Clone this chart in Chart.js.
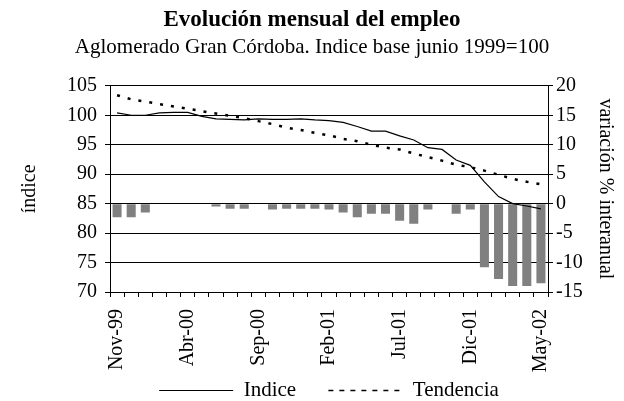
<!DOCTYPE html>
<html>
<head>
<meta charset="utf-8">
<script src="https://cdn.jsdelivr.net/npm/chart.js@4.4.1/dist/chart.umd.min.js"></script>
<style>
  body { margin: 0; background: #fff; }
</style>
</head>
<body>
<canvas id="empleo" width="624" height="401"></canvas>
<script>
// meses (nov-99 a may-02)
const meses = ['Nov-99', 'Dic-99', 'Ene-00', 'Feb-00', 'Mar-00', 'Abr-00', 'May-00', 'Jun-00', 'Jul-00', 'Ago-00',
  'Sep-00', 'Oct-00', 'Nov-00', 'Dic-00', 'Ene-01', 'Feb-01', 'Mar-01', 'Abr-01', 'May-01', 'Jun-01',
  'Jul-01', 'Ago-01', 'Sep-01', 'Oct-01', 'Nov-01', 'Dic-01', 'Ene-02', 'Feb-02', 'Mar-02', 'Abr-02', 'May-02'];

// indice base junio 1999=100 (eje izquierdo)
const indice = [100.4, 100.0, 100.0, 100.4, 100.5, 100.5, 99.8, 99.4, 99.3, 99.2,
  99.4, 99.3, 99.3, 99.4, 99.2, 99.1, 98.8, 98.1, 97.3, 97.3,
  96.5, 95.8, 94.5, 94.2, 92.4, 91.5, 88.7, 86.2, 85.0, 84.6, 84.1];

const tendencia = [103.4, 102.7, 102.3, 101.9, 101.5, 101.1, 100.7, 100.3, 99.9, 99.5,
  99.0, 98.5, 97.9, 97.5, 97.0, 96.6, 96.0, 95.6, 95.0, 94.5,
  94.2, 93.5, 92.9, 92.3, 91.6, 91.2, 90.6, 89.9, 89.2, 88.7, 88.3];

// variacion % interanual (eje derecho)
const variacion = [-2.3, -2.3, -1.5, -0.1, 0, 0, 0, -0.5, -0.85, -0.85,
  -0.1, -1.0, -0.85, -0.85, -0.85, -1.0, -1.5, -2.3, -1.7, -1.7,
  -2.9, -3.4, -1.0, -0.1, -1.7, -1.0, -10.8, -12.8, -14.0, -14.0, -13.5];

const fuente = 'Liberation Serif, Times New Roman, serif';

const ctx = document.getElementById('empleo').getContext('2d');
new Chart(ctx, {
  type: 'bar',
  data: {
    labels: meses,
    datasets: [{
      type: 'line',
      label: 'Indice',
      data: indice,
      yAxisID: 'y',
      borderColor: '#000',
      backgroundColor: '#000',
      borderWidth: 1.2,
      pointRadius: 0,
      tension: 0
    }, {
      type: 'line',
      label: 'Tendencia',
      data: tendencia,
      yAxisID: 'y',
      borderColor: '#000',
      backgroundColor: '#000',
      borderWidth: 2.5,
      borderDash: [3, 8],
      pointRadius: 0,
      tension: 0
    }, {
      label: 'variación % interanual',
      data: variacion,
      yAxisID: 'y2',
      backgroundColor: '#808080',
      categoryPercentage: 1,
      barPercentage: 0.64
    }]
  },
  options: {
    responsive: false,
    animation: false,
    layout: { padding: { top: 0, left: 0, right: 0, bottom: -10 } },
    scales: {
      x: {
        grid: { display: true, drawOnChartArea: false, drawTicks: true, tickLength: 5, color: '#000' },
        border: { color: '#000', width: 1 },
        ticks: {
          autoSkip: false,
          minRotation: 90,
          maxRotation: 90,
          padding: 12,
          color: '#000',
          font: { family: fuente, size: 20 },
          callback: function (val, i) { return i % 5 === 0 ? meses[i] : ''; }
        },
        afterFit: function (scale) { scale.height = 82; }
      },
      y: {
        position: 'left',
        min: 70,
        max: 105,
        ticks: { stepSize: 5, padding: 8, color: '#000', font: { family: fuente, size: 20 } },
        grid: { color: '#000', lineWidth: 1, tickLength: 5 },
        border: { color: '#000', width: 1 },
        title: { display: true, text: 'índice', color: '#000', font: { family: fuente, size: 20 }, padding: { top: 18, bottom: 0 } },
        afterFit: function (scale) { scale.width = 110; }
      },
      y2: {
        position: 'right',
        min: -15,
        max: 20,
        ticks: { stepSize: 5, padding: 3, color: '#000', font: { family: fuente, size: 20 } },
        grid: { drawOnChartArea: false, color: '#000', tickLength: 5 },
        border: { color: '#000', width: 1 },
        title: { display: true, text: 'variación % interanual', color: '#000', font: { family: fuente, size: 20 }, padding: { top: 7, bottom: 0 } },
        afterFit: function (scale) { scale.width = 76; }
      }
    },
    plugins: {
      title: {
        display: true,
        text: 'Evolución mensual del empleo',
        color: '#000',
        font: { family: fuente, size: 23, weight: 'bold' },
        padding: { top: 6, bottom: 0 }
      },
      subtitle: {
        display: true,
        text: 'Aglomerado Gran Córdoba. Indice base junio 1999=100',
        color: '#000',
        font: { family: fuente, size: 21 },
        padding: { top: 1, bottom: 26 }
      },
      legend: {
        position: 'bottom',
        fullSize: false,
        labels: {
          filter: function (item) { return item.datasetIndex < 2; },
          // separa los items y usa un guion mas fino en la leyenda
          generateLabels: function (chart) {
            const items = Chart.defaults.plugins.legend.labels.generateLabels(chart);
            items.forEach(function (it) {
              if (it.datasetIndex === 0) it.text = it.text + '     ';
              if (it.datasetIndex === 1) { it.lineDash = [5, 6]; it.lineWidth = 1.5; }
            });
            return items;
          },
          boxWidth: 74,
          boxHeight: 0,
          padding: 6,
          color: '#000',
          font: { family: fuente, size: 21 }
        }
      },
      tooltip: { enabled: false }
    }
  }
});
</script>
</body>
</html>
